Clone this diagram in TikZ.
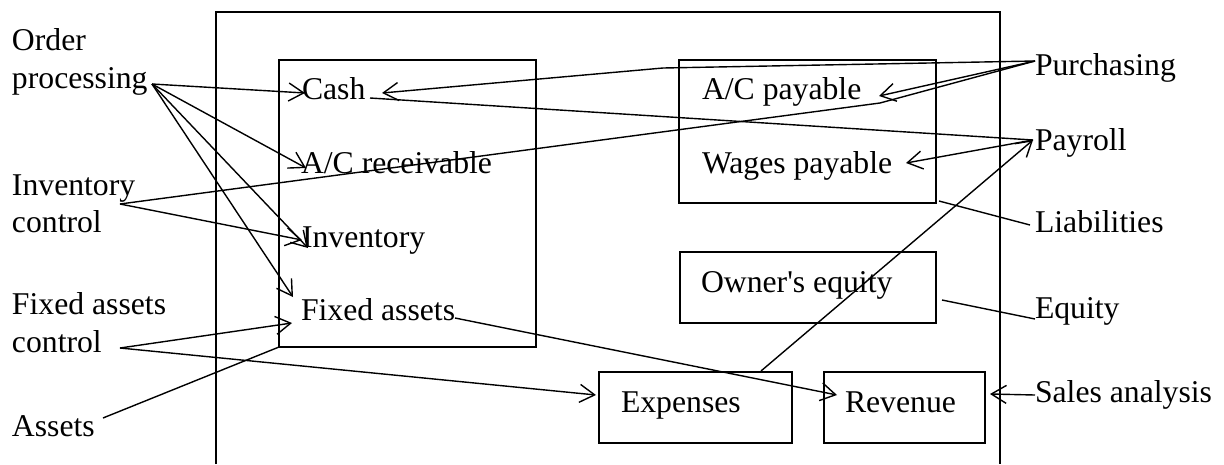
\documentclass[tikz,border=0pt]{standalone}
\usepackage{fontspec}
\setmainfont{Liberation Serif}[Ligatures=TeXOff]
\usetikzlibrary{arrows.meta}
\begin{document}
\begin{tikzpicture}[x=1pt,y=-1pt,
  lbl/.style={anchor=base west,inner sep=0pt,outer sep=0pt,font=\fontsize{31.7}{38}\selectfont},
  box/.style={draw,line width=2pt,anchor=north west,inner sep=0pt,outer sep=0pt},
  con/.style={line width=1.4pt,line join=round},
  arr/.style={con,-{Straight Barb[length=15pt,width=18pt]}}]
\useasboundingbox (0,0) rectangle (1224,464);

% system frame (open at the bottom)
\draw[line width=1.6pt] (216,464) -- (216,12) -- (1000,12) -- (1000,464);

% account groups
\node[box,minimum width=257pt,minimum height=287pt] (assetsbox) at (279,60) {};
\node[box,minimum width=257pt,minimum height=143pt] (liabbox) at (679,60) {};
\node[box,minimum width=256pt,minimum height=71pt] (equitybox) at (680,252) {};
\node[box,minimum width=193pt,minimum height=71pt] (expbox) at (599,372) {};
\node[box,minimum width=161pt,minimum height=71pt] (revbox) at (824,372) {};

% accounts
\node[lbl] (cash) at (302,99) {Cash};
\node[lbl] (acrec) at (301,173) {A/C receivable};
\node[lbl] (inv) at (302,247) {Inventory};
\node[lbl] (fixed) at (301,320) {Fixed assets};
\node[lbl] (acpay) at (702,99) {A/C payable};
\node[lbl] (wages) at (702,173) {Wages payable};
\node[lbl] (owner) at (701,292) {Owner's equity};
\node[lbl] (exp) at (621,412) {Expenses};
\node[lbl] (rev) at (845,412) {Revenue};

% subsystems on the left
\node[lbl] (order1) at (12,50) {Order};
\node[lbl] (order) at (12,88) {processing};
\node[lbl] (invc1) at (12,195) {Inventory};
\node[lbl] (invc) at (12,232) {control};
\node[lbl] (fac1) at (12,314) {Fixed assets};
\node[lbl] (fac) at (12,352) {control};
\node[lbl] (assets) at (12,436) {Assets};

% subsystems and groups on the right
\node[lbl] (purch) at (1035,75) {Purchasing};
\node[lbl] (payroll) at (1035,150) {Payroll};
\node[lbl] (liab) at (1035,232) {Liabilities};
\node[lbl] (equity) at (1035,318) {Equity};
\node[lbl] (sales) at (1035,402) {Sales analysis};

% connector end points
\coordinate (orderOut) at (152,84);
\coordinate (invcOut) at (120,204);
\coordinate (facOut) at (120,348);
\coordinate (assetsOut) at (103,418);
\coordinate (cashIn) at (305,93);
\coordinate (acrecIn) at (306,168);
\coordinate (invIn) at (308,248);
\coordinate (invIn2) at (302,240);
\coordinate (fixedIn) at (293,297);
\coordinate (fixedIn2) at (292,323);
\coordinate (fixedOut) at (455,318);
\coordinate (cashOut) at (370,98);
\coordinate (cashIn2) at (382,93);
\coordinate (acpayIn) at (879,96);
\coordinate (wagesIn) at (906,163);
\coordinate (purchOut) at (1035,61);
\coordinate (payrollIn) at (1033,140);
\coordinate (expIn) at (596,395);
\coordinate (expOut) at (761,371);
\coordinate (revIn) at (837,395);
\coordinate (revIn2) at (990,394);
\coordinate (salesOut) at (1035,395);
\coordinate (liabOut) at (1030,225);
\coordinate (liabIn) at (939,201);
\coordinate (equityOut) at (1035,319);
\coordinate (equityIn) at (942,300);
\coordinate (bendA) at (663,68);
\coordinate (bendB) at (880,103);

% order processing
\draw[arr] (orderOut) -- (cashIn);
\draw[arr] (orderOut) -- (acrecIn);
\draw[arr] (orderOut) -- (invIn);
\draw[arr] (orderOut) -- (fixedIn);

% inventory control
\draw[arr] (invcOut) -- (invIn2);
\draw[con] (invcOut) -- (bendB) -- (purchOut);

% fixed assets control
\draw[arr] (facOut) -- (fixedIn2);
\draw[arr] (facOut) -- (expIn);

% group labels
\draw[con] (assetsOut) -- (assetsbox.south west);
\draw[con] (liabOut) -- (liabIn);
\draw[con] (equityOut) -- (equityIn);

% purchasing
\draw[arr] (purchOut) -- (bendA) -- (cashIn2);
\draw[arr] (purchOut) -- (acpayIn);

% payroll
\draw[con] (cashOut) -- (payrollIn);
\draw[arr] (payrollIn) -- (wagesIn);
\draw[arr] (expOut) -- (payrollIn);

% revenue
\draw[arr] (fixedOut) -- (revIn);
\draw[arr] (salesOut) -- (revIn2);
\end{tikzpicture}
\end{document}
